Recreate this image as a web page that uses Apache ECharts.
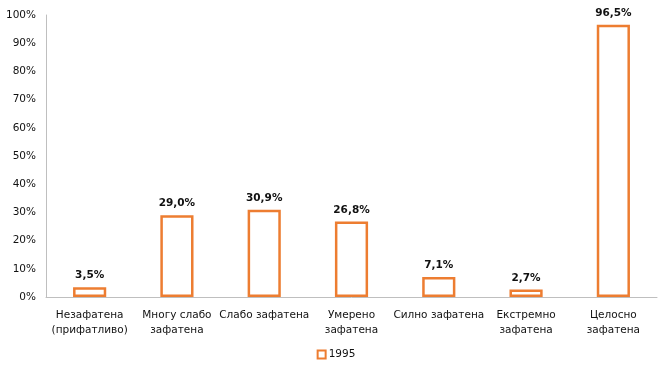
<!DOCTYPE html>
<html><head><meta charset="utf-8">
<script src="https://cdn.jsdelivr.net/npm/echarts@6/dist/echarts.min.js"></script>
<style>html,body{margin:0;padding:0;background:#fff}#c{width:672px;height:374px}</style>
</head><body><div id="c"></div>
<script>
const categories = ["Незафатена\n(прифатливо)", "Многу слабо\nзафатена", "Слабо зафатена", "Умерено\nзафатена", "Силно зафатена", "Екстремно\nзафатена", "Целосно\nзафатена"];
const values1995 = [3.5, 29.0, 30.9, 26.8, 7.1, 2.7, 96.5];
const seriesName = "1995";
const orange = "#ED7D31";
const font = "'DejaVu Sans', sans-serif";
const chart = echarts.init(document.getElementById('c'));
chart.setOption({
  animation: false,
  textStyle: {fontFamily: font},
  grid: {left: 46, right: 15, top: 15, bottom: 77, containLabel: false},
  legend: {
    bottom: 9, left: 'center',
    data: [{name: seriesName, icon: 'rect', itemStyle: {color: '#fff', borderColor: orange, borderWidth: 2}}],
    itemWidth: 8, itemHeight: 8, itemGap: 4,
    textStyle: {fontSize: 10.5, color: '#111', fontFamily: font, padding: [0,0,0,-2]}
  },
  xAxis: {
    type: 'category', data: categories,
    axisLine: {lineStyle: {color: '#BFBFBF', width: 1}},
    axisTick: {show: false},
    axisLabel: {interval: 0, fontSize: 10.5, color: '#111', lineHeight: 15, margin: 11, fontFamily: font}
  },
  yAxis: {
    type: 'value', min: 0, max: 100, interval: 10,
    axisLine: {show: true, lineStyle: {color: '#BFBFBF', width: 1}},
    axisTick: {show: false},
    splitLine: {show: false},
    axisLabel: {formatter: '{value}%', fontSize: 10.5, color: '#111', margin: 10, fontFamily: font}
  },
  series: [{
    name: seriesName, type: 'bar', data: values1995, barWidth: '38%',
    itemStyle: {color: '#fff', borderColor: orange, borderWidth: 2.5},
    label: {show: true, position: 'top', distance: 6, fontSize: 10.5, fontWeight: 'bold', color: '#111', fontFamily: font,
      formatter: p => p.value.toFixed(1).replace('.', ',') + '%'}
  }]
});
</script></body></html>
